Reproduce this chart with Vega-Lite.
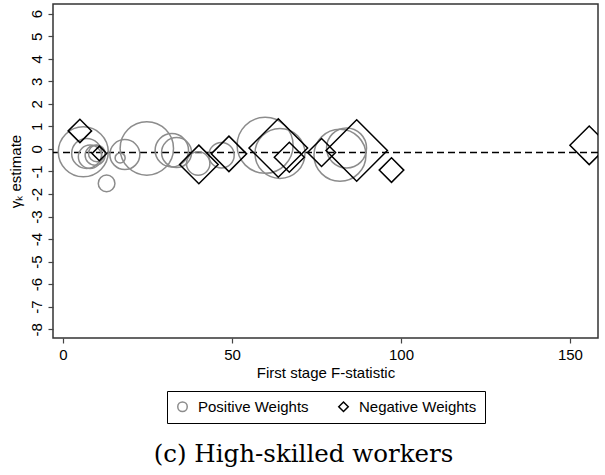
{
  "$schema": "https://vega.github.io/schema/vega-lite/v6.json",
  "autosize": {"type": "none"},
  "width": 545,
  "height": 334,
  "padding": {"left": 53, "top": 4, "right": 7, "bottom": 137},
  "background": "white",
  "config": {
    "font": "Liberation Sans",
    "view": {"stroke": "#333333", "strokeWidth": 1.5},
    "axis": {"grid": false, "domain": false, "tickColor": "#444444", "tickSize": 5, "tickWidth": 1.2, "labelFontSize": 15, "labelColor": "black", "titleFontSize": 15, "titleFontWeight": "normal", "titleColor": "black", "labelFont": "Liberation Sans", "titleFont": "Liberation Sans", "labelOverlap": false}
  },
  "title": {"text": "(c) High-skilled workers", "orient": "bottom", "font": "DejaVu Serif", "fontSize": 24.5, "fontWeight": "normal", "color": "black", "offset": 19, "anchor": "middle", "dx": -22},
  "datasets": {
    "points": [
      {"F": 6.0, "gamma": -0.13, "weight": 0.694, "type": "Positive Weights"},
      {"F": 7.0, "gamma": -0.2, "weight": 0.25, "type": "Positive Weights"},
      {"F": 8.0, "gamma": -0.35, "weight": 0.152, "type": "Positive Weights"},
      {"F": 9.5, "gamma": -0.28, "weight": 0.111, "type": "Positive Weights"},
      {"F": 10.0, "gamma": -0.2, "weight": 0.077, "type": "Positive Weights"},
      {"F": 12.9, "gamma": -1.53, "weight": 0.077, "type": "Positive Weights"},
      {"F": 16.9, "gamma": -0.4, "weight": 0.028, "type": "Positive Weights"},
      {"F": 18.3, "gamma": -0.25, "weight": 0.25, "type": "Positive Weights"},
      {"F": 24.8, "gamma": 0.02, "weight": 0.792, "type": "Positive Weights"},
      {"F": 32.2, "gamma": -0.06, "weight": 0.31, "type": "Positive Weights"},
      {"F": 33.6, "gamma": -0.16, "weight": 0.25, "type": "Positive Weights"},
      {"F": 40.0, "gamma": -0.65, "weight": 0.152, "type": "Positive Weights"},
      {"F": 46.9, "gamma": -0.28, "weight": 0.179, "type": "Positive Weights"},
      {"F": 59.8, "gamma": 0.16, "weight": 0.871, "type": "Positive Weights"},
      {"F": 64.2, "gamma": -0.2, "weight": 0.694, "type": "Positive Weights"},
      {"F": 81.95, "gamma": -0.28, "weight": 0.75, "type": "Positive Weights"},
      {"F": 83.9, "gamma": 0.04, "weight": 0.444, "type": "Positive Weights"},
      {"F": 5.0, "gamma": 0.8, "weight": 0.152, "type": "Negative Weights"},
      {"F": 10.75, "gamma": -0.2, "weight": 0.059, "type": "Negative Weights"},
      {"F": 40.2, "gamma": -0.69, "weight": 0.414, "type": "Negative Weights"},
      {"F": 49.1, "gamma": -0.22, "weight": 0.348, "type": "Negative Weights"},
      {"F": 63.7, "gamma": 0.04, "weight": 0.954, "type": "Negative Weights"},
      {"F": 66.96, "gamma": -0.37, "weight": 0.25, "type": "Negative Weights"},
      {"F": 76.5, "gamma": -0.16, "weight": 0.218, "type": "Negative Weights"},
      {"F": 86.9, "gamma": -0.07, "weight": 1.047, "type": "Negative Weights"},
      {"F": 97.2, "gamma": -0.94, "weight": 0.168, "type": "Negative Weights"},
      {"F": 155.7, "gamma": 0.16, "weight": 0.414, "type": "Negative Weights"}
    ],
    "meanline": [{"gamma": -0.16}]
  },
  "encoding": {
    "y": {"field": "gamma", "type": "quantitative", "title": "γₖ estimate",
          "scale": {"domain": [-8.39, 6.43], "nice": false, "zero": false},
          "axis": {"values": [-8, -7, -6, -5, -4, -3, -2, -1, 0, 1, 2, 3, 4, 5, 6], "labelExpr": "datum.value + ''", "labelAngle": -90, "labelAlign": "center", "labelBaseline": "bottom", "labelPadding": 4, "titlePadding": 6, "labelOverlap": false, "labelFlush": false}}
  },
  "layer": [
    {
      "data": {"name": "meanline"},
      "mark": {"type": "rule", "color": "black", "strokeWidth": 1.5, "strokeDash": [7, 4]}
    },
    {
      "data": {"name": "points"},
      "mark": {"type": "point", "filled": false, "strokeWidth": 1.5, "clip": true, "opacity": 1},
      "encoding": {
        "x": {"field": "F", "type": "quantitative", "title": "First stage F-statistic",
              "scale": {"domain": [-2.96, 158.3], "nice": false, "zero": false},
              "axis": {"values": [0, 50, 100, 150], "labelPadding": 4, "titlePadding": 3}},
        "shape": {"field": "type", "type": "nominal", "sort": ["Positive Weights", "Negative Weights"],
                  "scale": {"domain": ["Positive Weights", "Negative Weights"], "range": ["circle", "diamond"]},
                  "legend": {"title": null, "orient": "none", "legendX": 114, "legendY": 387, "direction": "horizontal",
                             "strokeColor": "black", "padding": 8, "labelFontSize": 15, "labelFont": "Liberation Sans", "labelColor": "black",
                             "symbolSize": 90, "symbolStrokeWidth": 1.5, "columnPadding": 26, "labelOffset": 8}},
        "stroke": {"field": "type", "type": "nominal",
                   "scale": {"domain": ["Positive Weights", "Negative Weights"], "range": ["#8c8c8c", "#000000"]},
                   "legend": {"title": null, "orient": "none", "legendX": 114, "legendY": 387, "direction": "horizontal",
                             "strokeColor": "black", "padding": 8, "labelFontSize": 15, "labelFont": "Liberation Sans", "labelColor": "black",
                             "symbolSize": 90, "symbolStrokeWidth": 1.5, "columnPadding": 26, "labelOffset": 8}},
        "size": {"field": "weight", "type": "quantitative", "scale": {"type": "linear", "domain": [0, 1.1], "range": [0, 3960], "zero": true}, "legend": null}
      }
    }
  ]
}
